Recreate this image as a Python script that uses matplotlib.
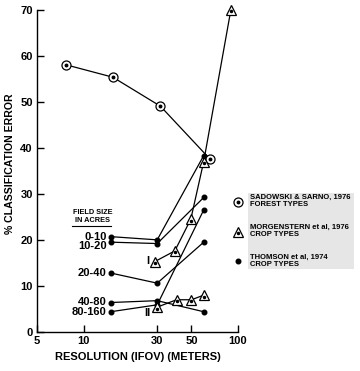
import matplotlib
matplotlib.use("Agg")
import matplotlib.pyplot as plt
from matplotlib.patches import Rectangle
from matplotlib.lines import Line2D

plt.rcParams['font.family'] = ['Liberation Sans', 'DejaVu Sans']
plt.rcParams['font.weight'] = 'bold'

# ---- data ----
sad_x = [7.7, 15.5, 31.5, 66]
sad_y = [58, 55.3, 49, 37.5]

morgI_x = [29, 39, 49.5, 60, 90]
morgI_y = [15.3, 17.6, 24.5, 37, 70]
morgII_x = [30, 40, 50, 60]
morgII_y = [5.4, 7.0, 7.0, 8.0]

thomson_labels = ["0-10", "10-20", "20-40", "40-80", "80-160"]
thomson_x = [15, 30, 60]
thomson_y = [
    [20.7, 20.0, 38.3],
    [19.5, 19.2, 29.2],
    [12.8, 10.6, 19.5],
    [6.4, 6.8, 4.4],
    [4.4, 5.9, 26.5],
]
label_y = [20.7, 18.6, 12.8, 6.45, 4.3]

xticks = [5, 10, 30, 50, 100]
yticks = [0, 10, 20, 30, 40, 50, 60, 70]

fig = plt.figure(figsize=(3.6, 3.71), dpi=100)
ax = fig.add_axes([37/360, 1-332/371, (238-37)/360, (332-9.5)/371])
ax.set_xscale('log')
ax.set_xlim(5, 100)
ax.set_ylim(0, 70)
for s in ['top', 'right']:
    ax.spines[s].set_visible(False)
for s in ['left', 'bottom']:
    ax.spines[s].set_linewidth(1.0)
ax.set_xticks(xticks)
ax.set_xticklabels([str(v) for v in xticks])
ax.xaxis.set_minor_locator(matplotlib.ticker.NullLocator())
ax.set_yticks(yticks)
ax.tick_params(direction='in', length=5, width=1.0, labelsize=8, pad=3)
for lab in ax.get_xticklabels() + ax.get_yticklabels():
    lab.set_fontweight('bold')

lw = 0.9
# Sadowski
ax.plot(sad_x, sad_y, color='black', lw=lw, zorder=2, clip_on=False)
ax.plot(sad_x, sad_y, 'o', ms=6.5, mfc='white', mec='black', mew=0.9, zorder=5, clip_on=False)
ax.plot(sad_x, sad_y, 'o', ms=1.8, color='black', zorder=6, clip_on=False)

# Thomson
for ys in thomson_y:
    ax.plot(thomson_x, ys, color='black', lw=lw, zorder=2, clip_on=False)
    ax.plot(thomson_x, ys, 'o', ms=3.3, color='black', zorder=4, clip_on=False)

# Morgenstern
for xs, ys in [(morgI_x, morgI_y), (morgII_x, morgII_y)]:
    ax.plot(xs, ys, color='black', lw=lw, zorder=2, clip_on=False)
    ax.plot(xs, ys, '^', ms=6.5, mfc='white', mec='black', mew=0.9, zorder=5, clip_on=False)
    ax.plot(xs, [y - 0.3 for y in ys], 'o', ms=1.5, color='black', zorder=6, clip_on=False)

# field size labels
for lab, y in zip(thomson_labels, label_y):
    ax.text(14.1, y, lab, ha='right', va='center', fontsize=8, fontweight='bold')
ax.text(11.4, 25.9, "FIELD SIZE", ha='center', va='center', fontsize=5.3, fontweight='bold')
ax.text(11.4, 24.2, "IN ACRES", ha='center', va='center', fontsize=5.3, fontweight='bold')
ax.plot([8.4, 15.1], [23.0, 23.0], color='black', lw=0.8, clip_on=False)

ax.text(26.0, 15.4, "I", ha='center', va='center', fontsize=8, fontweight='bold')
ax.text(26.0, 4.2, "II", ha='center', va='center', fontsize=8, fontweight='bold')

ax.set_xlabel("RESOLUTION (IFOV) (METERS)", fontsize=8, fontweight='bold', labelpad=4)
ax.set_ylabel("% CLASSIFICATION ERROR", fontsize=7.6, fontweight='bold', labelpad=2)
ax.yaxis.set_label_coords(-22/201, (332-164)/322.5)

# legend
fig.patches.append(Rectangle((248/360, 1-269/371), (354-248)/360, 76/371,
                             transform=fig.transFigure, facecolor='#e6e6e6',
                             edgecolor='none', zorder=0))
lx = 238/360
ly = [1-202/371, 1-232/371, 1-261/371]
fig.add_artist(Line2D([lx], [ly[0]], marker='o', ms=6.5, mfc='white', mec='black', mew=0.9,
                      transform=fig.transFigure))
fig.add_artist(Line2D([lx], [ly[0]], marker='o', ms=1.8, color='black', transform=fig.transFigure))
fig.add_artist(Line2D([lx], [ly[1]], marker='^', ms=6.5, mfc='white', mec='black', mew=0.9,
                      transform=fig.transFigure))
fig.add_artist(Line2D([lx], [ly[1] - 0.003], marker='o', ms=1.5, color='black', transform=fig.transFigure))
fig.add_artist(Line2D([lx], [ly[2]], marker='o', ms=3.3, color='black', transform=fig.transFigure))

leg_texts = ["SADOWSKI & SARNO, 1976\nFOREST TYPES",
             "MORGENSTERN et al, 1976\nCROP TYPES",
             "THOMSON et al, 1974\nCROP TYPES"]
leg_y = [1-201/371, 1-231/371, 1-261/371]
for t, y in zip(leg_texts, leg_y):
    fig.text(250/360, y, t, ha='left', va='center', fontsize=5.5, fontweight='bold',
             linespacing=1.05)

fig.savefig("out.png", dpi=100)
